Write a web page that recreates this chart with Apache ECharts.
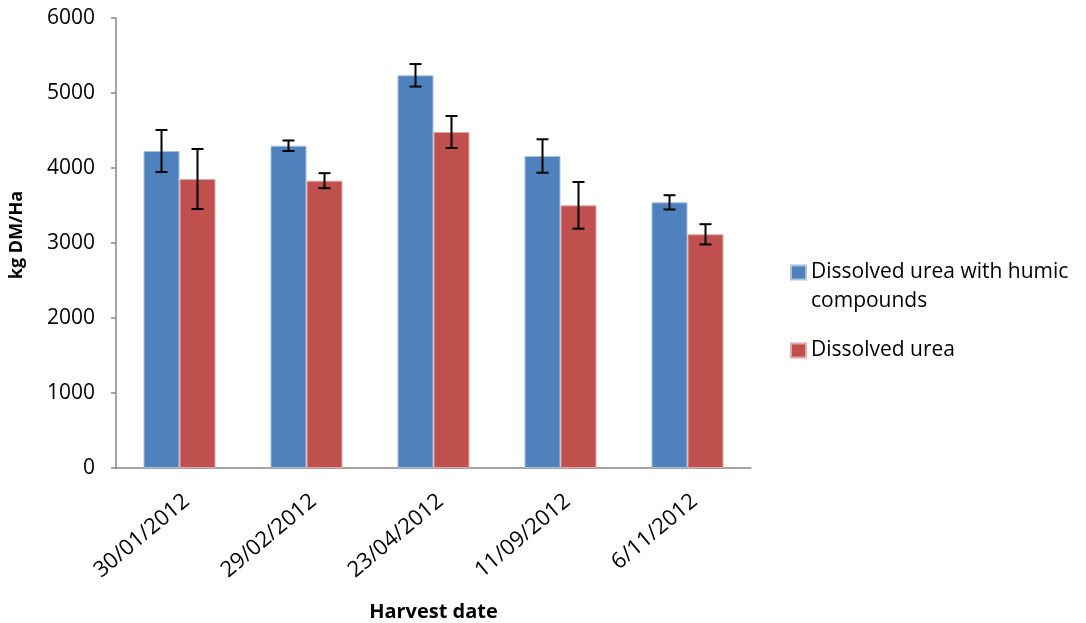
<!DOCTYPE html>
<html><head><meta charset="utf-8">
<script src="https://cdn.jsdelivr.net/npm/echarts@6/dist/echarts.min.js"></script>
<style>html,body{margin:0;padding:0;background:#fff}#c{width:1086px;height:623px}</style>
</head><body><div id="c"></div>
<script>
const categories = ['30/01/2012','29/02/2012','23/04/2012','11/09/2012','6/11/2012'];
const seriesNames = ['Dissolved urea with humic compounds','Dissolved urea'];
const humicValues = [4227, 4297, 5236, 4160, 3542];
const humicErr = [280, 70, 150, 223, 95];
const ureaValues = [3853, 3831, 4480, 3502, 3116];
const ureaErr = [400, 100, 213, 311, 135];
const yTicks = {min: 0, max: 6000, interval: 1000};

const FONT = 'Open Sans';
const BAR_W = 36;
const chart = echarts.init(document.getElementById('c'));

function errSeries(vals, errs, offset) {
  return {
    type: 'custom',
    z: 10,
    silent: true,
    data: vals.map((v, i) => [i, v - errs[i], v + errs[i]]),
    renderItem: function (params, api) {
      const lo = api.coord([api.value(0), api.value(1)]);
      const hi = api.coord([api.value(0), api.value(2)]);
      const x = lo[0] + offset;
      const cap = 6;
      const st = {stroke: '#000', lineWidth: 2};
      return {type: 'group', children: [
        {type: 'line', shape: {x1: x, y1: lo[1], x2: x, y2: hi[1]}, style: st},
        {type: 'line', shape: {x1: x - cap, y1: lo[1], x2: x + cap, y2: lo[1]}, style: st},
        {type: 'line', shape: {x1: x - cap, y1: hi[1], x2: x + cap, y2: hi[1]}, style: st}
      ]};
    }
  };
}

chart.setOption({
  animation: false,
  textStyle: {fontFamily: FONT},
  grid: {left: 116, right: 335, top: 18, bottom: 155, containLabel: false, outerBoundsMode: 'none'},
  legend: {
    orient: 'vertical',
    left: 785,
    top: 224,
    itemWidth: 15,
    itemHeight: 14,
    itemGap: 20,
    icon: 'rect',
    textStyle: {fontFamily: FONT, fontSize: 21, color: '#000', lineHeight: 29},
    data: [
      {name: seriesNames[0]},
      {name: seriesNames[1]}
    ],
    formatter: function (n) { return n === seriesNames[0] ? ' \nDissolved urea with humic\ncompounds' : n; }
  },
  xAxis: {
    type: 'category',
    data: categories,
    name: 'Harvest date',
    nameLocation: 'middle',
    nameGap: 134,
    nameTextStyle: {fontFamily: FONT, fontSize: 20, fontWeight: 'bold', color: '#000'},
    axisLine: {lineStyle: {color: '#868686', width: 1.5}},
    axisTick: {show: false},
    axisLabel: {rotate: 40, fontSize: 22, color: '#000', margin: 22, verticalAlign: 'top', fontFamily: FONT}
  },
  yAxis: {
    type: 'value',
    min: yTicks.min, max: yTicks.max, interval: yTicks.interval,
    name: 'kg DM/Ha',
    nameLocation: 'middle',
    nameGap: 90,
    nameTextStyle: {fontFamily: FONT, fontSize: 18, fontWeight: 'bold', color: '#000', padding: [0, 0, 0, 16]},
    splitLine: {show: false},
    axisLine: {show: true, lineStyle: {color: '#868686', width: 1.5}},
    axisTick: {show: true, length: 5, lineStyle: {color: '#868686', width: 1.5}},
    axisLabel: {fontSize: 21, color: '#000', margin: 21, fontFamily: FONT, formatter: v => String(v)}
  },
  series: [
    {name: seriesNames[0], type: 'bar', data: humicValues, barWidth: BAR_W, barGap: '0%',
     itemStyle: {color: '#4F81BD', borderColor: '#A7C0DE', borderWidth: 1}},
    {name: seriesNames[1], type: 'bar', data: ureaValues, barWidth: BAR_W, barGap: '0%',
     itemStyle: {color: '#C0504D', borderColor: '#E0A8A6', borderWidth: 1}},
    errSeries(humicValues, humicErr, -BAR_W / 2),
    errSeries(ureaValues, ureaErr, BAR_W / 2)
  ]
});
</script></body></html>
